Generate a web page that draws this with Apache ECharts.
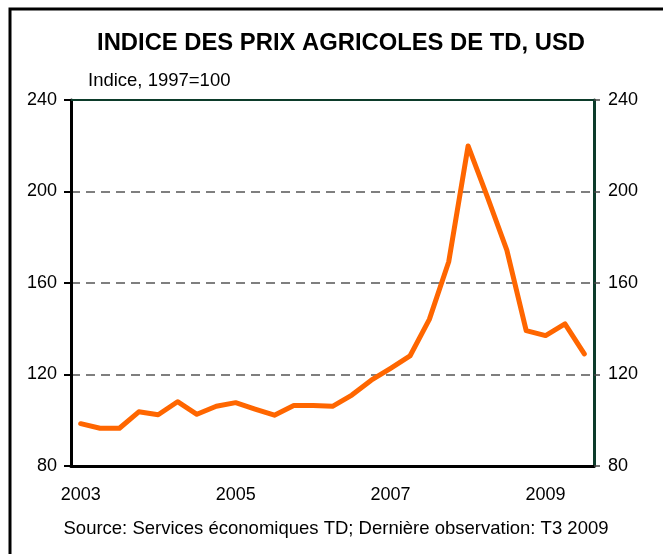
<!DOCTYPE html>
<html>
<head>
<meta charset="utf-8">
<script src="https://cdn.jsdelivr.net/npm/echarts@6/dist/echarts.min.js"></script>
<style>
  html, body { margin: 0; padding: 0; background: #fff; }
  #chart { width: 663px; height: 554px; }
</style>
</head>
<body>
<div id="chart"></div>
<script>
// quarters, 2003 T1 .. 2009 T3
var quarters = [
  '2003T1', '2003T2', '2003T3', '2003T4',
  '2004T1', '2004T2', '2004T3', '2004T4',
  '2005T1', '2005T2', '2005T3', '2005T4',
  '2006T1', '2006T2', '2006T3', '2006T4',
  '2007T1', '2007T2', '2007T3', '2007T4',
  '2008T1', '2008T2', '2008T3', '2008T4',
  '2009T1', '2009T2', '2009T3'
];
// indice des prix agricoles (1997=100)
var indice = [
  98.5, 96.5, 96.5, 103.7,
  102.4, 108.1, 102.6, 106.1,
  107.7, 104.9, 102.2, 106.4,
  106.4, 106.1, 111.0, 117.5,
  122.7, 128.1, 144.1, 169.3,
  219.9, 197.5, 174.4, 139.2,
  137.0, 142.1, 129.0
];
var yTicks = [80, 120, 160, 200, 240];

var FONT = '"Liberation Sans", Arial, sans-serif';
var darkGreen = '#0c3b2a';

var chart = echarts.init(document.getElementById('chart'));

var yAxisBase = {
  type: 'value',
  min: yTicks[0],
  max: yTicks[yTicks.length - 1],
  interval: yTicks[1] - yTicks[0],
  axisLabel: { color: '#000', fontSize: 18, fontFamily: FONT, margin: 14 },
  axisTick: { show: true, length: 7, lineStyle: { width: 2 } },
};

chart.setOption({
  animation: false,
  backgroundColor: '#fff',
  grid: { left: 71, right: 69, top: 100, bottom: 88 },
  xAxis: [
    {
      type: 'category',
      data: quarters,
      boundaryGap: true,
      axisLine: { lineStyle: { color: '#000', width: 3 } },
      axisTick: { interval: 3, length: 7, lineStyle: { color: '#000', width: 2 } },
      axisLabel: {
        interval: 7,
        color: '#000', fontSize: 18, fontFamily: FONT, margin: 20,
        formatter: function (v) { return v.slice(0, 4); }
      },
      splitLine: { show: false }
    },
    {
      // top border of the plot
      type: 'category',
      data: quarters,
      position: 'top',
      axisLine: { lineStyle: { color: darkGreen, width: 2 } },
      axisTick: { show: false },
      axisLabel: { show: false }
    }
  ],
  yAxis: [
    Object.assign({}, yAxisBase, {
      position: 'left',
      axisLine: { show: true, lineStyle: { color: '#000', width: 3 } },
      axisTick: { show: true, length: 7, lineStyle: { color: '#000', width: 2 } },
      splitLine: { show: true, lineStyle: { color: '#555', width: 1.5, type: [9, 6] } }
    }),
    Object.assign({}, yAxisBase, {
      position: 'right',
      axisLine: { show: true, lineStyle: { color: darkGreen, width: 3 } },
      axisTick: { show: true, length: 6, lineStyle: { color: '#444', width: 1.5 } },
      splitLine: { show: false }
    })
  ],
  series: [{
    type: 'line',
    data: indice,
    showSymbol: false,
    symbol: 'none',
    lineStyle: { color: '#ff6600', width: 5, join: 'round', cap: 'round' },
    z: 5
  }],
  graphic: [
    {
      type: 'rect',
      shape: { x: 10, y: 9, width: 700, height: 620 },
      style: { fill: null, stroke: '#000', lineWidth: 3 },
      silent: true
    },
    {
      type: 'text',
      style: {
        text: 'INDICE DES PRIX AGRICOLES DE TD, USD',
        x: 341, y: 43, align: 'center', verticalAlign: 'middle',
        font: 'bold 23.8px ' + FONT, fill: '#000'
      }
    },
    {
      type: 'text',
      style: {
        text: 'Indice, 1997=100',
        x: 88, y: 81, align: 'left', verticalAlign: 'middle',
        font: '18.5px ' + FONT, fill: '#000'
      }
    },
    {
      type: 'text',
      style: {
        text: 'Source: Services économiques TD; Dernière observation: T3 2009',
        x: 336, y: 529, align: 'center', verticalAlign: 'middle',
        font: '18.5px ' + FONT, fill: '#000'
      }
    }
  ]
});
</script>
</body>
</html>
